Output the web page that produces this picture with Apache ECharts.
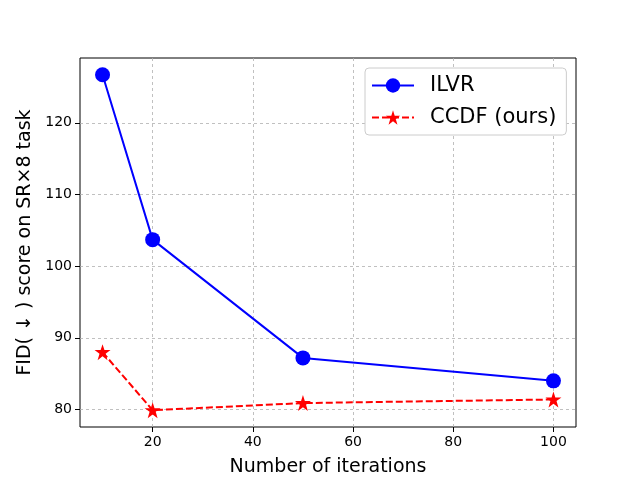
<!DOCTYPE html>
<html>
<head>
<meta charset="utf-8">
<script src="https://cdn.jsdelivr.net/npm/echarts@6/dist/echarts.min.js"></script>
<style>
  html, body { margin: 0; padding: 0; background: #fff; }
  #chart { width: 640px; height: 480px; }
</style>
</head>
<body>
<div id="chart"></div>
<script>
// --- Data ---
const iterations = [10, 20, 50, 100];
const ilvrFid = [126.7, 103.7, 87.2, 84.0];
const ccdfFid = [88.0, 79.9, 80.9, 81.4];
const xTicks = [20, 40, 60, 80, 100];
const yTicks = [80, 90, 100, 110, 120];

const font = 'DejaVu Sans';
const chart = echarts.init(document.getElementById('chart'));

const gridLine = { show: true, lineStyle: { color: '#b0b0b0', type: [3, 3], width: 0.8 } };

const option = {
    animation: false,
    textStyle: { fontFamily: font },
    grid: {
        left: 80, right: 64, top: 58, bottom: 53,
        outerBoundsMode: 'none', containLabel: false,
        show: true, borderColor: '#000', borderWidth: 1
    },
    legend: {
        orient: 'vertical',
        left: 365, top: 68,
        padding: [7, 10, 7, 6],
        itemWidth: 42, itemHeight: 18, itemGap: 11,
        backgroundColor: '#fff',
        borderColor: '#cccccc', borderWidth: 1, borderRadius: 4,
        textStyle: { fontSize: 21, color: '#000', fontFamily: font, padding: [0, 0, 0, 11] },
        data: ['ILVR', 'CCDF (ours)']
    },
    xAxis: {
        type: 'value', min: 5.5, max: 104.5,
        name: 'Number of iterations', nameLocation: 'middle', nameGap: 31,
        nameTextStyle: { fontSize: 19, color: '#000' },
        axisLine: { show: false },
        axisTick: { show: true, length: 5, lineStyle: { color: '#000' }, customValues: xTicks },
        axisLabel: { fontSize: 14, color: '#000', margin: 8, customValues: xTicks },
        splitLine: gridLine
    },
    yAxis: {
        type: 'value', min: 77.56, max: 129.04,
        name: 'FID( \u2193 ) score on SR\u00d78 task', nameLocation: 'middle', nameGap: 39,
        nameTextStyle: { fontSize: 19, color: '#000' },
        axisLine: { show: false },
        axisTick: { show: true, length: 5, lineStyle: { color: '#000' }, customValues: yTicks },
        axisLabel: { fontSize: 14, color: '#000', margin: 8, customValues: yTicks },
        splitLine: gridLine
    },
    series: [
        {
            name: 'ILVR', type: 'line',
            data: iterations.map((x, i) => [x, ilvrFid[i]]),
            symbol: 'circle', symbolSize: 15,
            itemStyle: { color: '#0000ff' },
            lineStyle: { color: '#0000ff', width: 2 },
            z: 3
        },
        {
            name: 'CCDF (ours)', type: 'line',
            data: iterations.map((x, i) => [x, ccdfFid[i]]),
            symbol: 'path://M50,0 L61.8,35.4 L100,35.4 L69.1,57.3 L80.9,95.1 L50,72.4 L19.1,95.1 L30.9,57.3 L0,35.4 L38.2,35.4 Z',
            symbolSize: 16,
            itemStyle: { color: '#ff0000' },
            lineStyle: { color: '#ff0000', width: 2, type: [7, 3] },
            z: 3
        }
    ]
};
chart.setOption(option);
</script>
</body>
</html>
